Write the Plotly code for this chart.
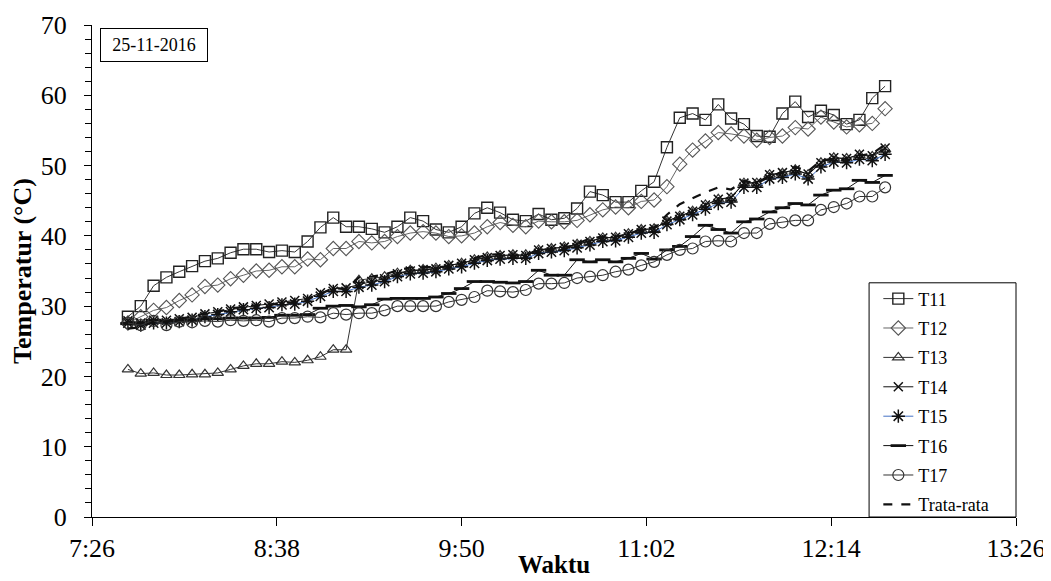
import pandas as pd
import plotly.graph_objects as go

# ---- data ----
times = pd.date_range(start="2016-11-25 07:40", periods=60, freq="5min")

T11 = [28.5, 30.0, 32.9, 34.1, 34.9, 35.7, 36.4, 36.8, 37.6, 38.1,
       38.1, 37.7, 37.9, 37.7, 39.2, 41.2, 42.6, 41.3, 41.3, 41.0,
       40.5, 41.3, 42.6, 42.1, 40.9, 40.5, 41.3, 43.2, 44.0, 43.3,
       42.3, 42.1, 43.1, 42.3, 42.5, 43.9, 46.3, 45.8, 44.8, 44.8,
       46.4, 47.7, 52.6, 56.8, 57.4, 56.5, 58.7, 56.7, 55.9, 54.2,
       54.1, 57.4, 59.1, 56.9, 57.8, 57.2, 55.9, 56.5, 59.6, 61.3]
T12 = [27.6, 28.5, 29.4, 29.8, 30.8, 31.6, 32.8, 33.0, 33.9, 34.4,
       35.0, 35.1, 35.6, 35.6, 36.7, 36.6, 38.2, 38.2, 39.2, 39.0,
       39.2, 39.9, 40.4, 40.6, 40.4, 39.9, 40.0, 40.4, 41.3, 41.9,
       41.5, 41.3, 42.1, 42.0, 42.0, 42.2, 43.0, 43.7, 44.1, 44.0,
       44.9, 45.1, 47.0, 50.2, 52.2, 53.5, 54.7, 54.5, 54.2, 53.6,
       54.0, 54.2, 55.4, 55.2, 56.9, 56.2, 55.5, 55.8, 56.0, 58.1]
T13 = [21.0, 20.4, 20.5, 20.2, 20.2, 20.3, 20.3, 20.5, 21.0, 21.5,
       21.8, 21.8, 22.1, 22.0, 22.3, 22.8, 23.8, 23.8, 33.7, 33.9,
       34.2, 34.7, 35.1, 35.2, 35.4, 35.8, 36.1, 36.6, 37.0, 37.2,
       37.3, 37.3, 38.0, 38.2, 38.4, 38.8, 39.2, 39.7, 39.8, 40.3,
       40.9, 41.0, 42.1, 42.8, 43.5, 44.4, 45.2, 45.4, 47.5, 47.5,
       48.7, 48.9, 49.4, 48.7, 50.4, 51.1, 51.0, 51.5, 51.3, 52.3]
T14 = [27.9, 27.6, 28.0, 28.0, 28.2, 28.4, 28.9, 29.2, 29.6, 29.9,
       30.1, 30.3, 30.6, 30.8, 31.1, 31.9, 32.5, 32.6, 33.1, 33.5,
       33.9, 34.6, 35.0, 35.2, 35.3, 35.8, 36.1, 36.6, 36.9, 37.2,
       37.3, 37.2, 38.0, 38.2, 38.4, 38.8, 39.2, 39.7, 39.8, 40.3,
       40.9, 41.0, 42.1, 42.8, 43.5, 44.4, 45.2, 45.5, 47.5, 47.6,
       48.7, 49.0, 49.4, 48.8, 50.4, 51.1, 51.0, 51.6, 51.4, 52.5]
T15 = [27.6, 27.3, 27.6, 27.6, 27.8, 28.0, 28.5, 28.8, 29.2, 29.5,
       29.7, 29.8, 30.2, 30.3, 30.7, 31.4, 32.1, 32.1, 32.7, 33.0,
       33.5, 34.2, 34.6, 34.7, 34.9, 35.3, 35.6, 36.1, 36.5, 36.7,
       36.8, 36.8, 37.5, 37.7, 37.9, 38.3, 38.7, 39.2, 39.3, 39.8,
       40.4, 40.5, 41.6, 42.3, 43.0, 43.8, 44.6, 44.8, 46.9, 46.9,
       48.1, 48.3, 48.8, 48.1, 49.8, 50.5, 50.4, 50.9, 50.7, 51.6]
T16 = [27.5, 27.6, 28.0, 27.9, 28.0, 28.0, 28.2, 28.2, 28.3, 28.3,
       28.3, 28.4, 28.7, 28.7, 28.8, 29.7, 30.0, 30.1, 29.9, 30.2,
       31.0, 31.1, 31.1, 31.1, 31.3, 31.8, 32.5, 33.5, 33.5, 33.4,
       33.3, 33.5, 35.1, 34.4, 34.4, 36.6, 36.3, 36.6, 36.3, 36.8,
       37.5, 36.7, 38.0, 38.5, 39.9, 41.5, 40.9, 40.4, 42.0, 42.4,
       43.4, 44.0, 44.6, 44.4, 45.8, 46.5, 46.7, 47.9, 47.6, 48.6]
T17 = [27.6, 27.3, 27.9, 27.3, 27.8, 27.7, 27.9, 27.8, 28.0, 27.9,
       28.0, 27.8, 28.3, 28.3, 28.5, 28.4, 29.0, 28.8, 29.0, 29.0,
       29.4, 30.0, 30.0, 30.0, 30.0, 30.6, 30.9, 31.3, 32.2, 32.1,
       32.0, 32.3, 33.2, 33.2, 33.3, 34.0, 34.2, 34.4, 34.9, 35.2,
       35.8, 36.3, 37.3, 38.0, 38.2, 39.2, 39.3, 39.2, 40.4, 40.4,
       41.7, 41.9, 42.2, 42.2, 43.7, 44.1, 44.6, 45.6, 45.6, 46.9]
TRATA = [26.8, 27.0, 27.8, 27.8, 28.2, 28.5, 29.0, 29.2, 29.7, 29.9,
         30.1, 30.1, 30.5, 30.5, 31.0, 31.7, 32.6, 32.4, 34.1, 34.2,
         34.5, 35.1, 35.5, 35.6, 35.5, 35.7, 36.1, 36.8, 37.3, 37.4,
         37.2, 37.2, 38.1, 38.0, 38.1, 38.9, 39.6, 39.9, 39.9, 40.2,
         41.0, 41.2, 43.0, 44.5, 45.4, 46.2, 46.9, 46.6, 47.8, 47.5,
         48.4, 49.1, 49.8, 49.2, 50.7, 51.0, 50.7, 51.4, 51.7, 53.0]

tick_times = ["2016-11-25 07:26", "2016-11-25 08:38", "2016-11-25 09:50",
              "2016-11-25 11:02", "2016-11-25 12:14", "2016-11-25 13:26"]
tick_labels = ["7:26", "8:38", "9:50", "11:02", "12:14", "13:26"]
date_label = "25-11-2016"
x_title = "Waktu"
y_title = "Temperatur (°C)"

SERIF = "Liberation Serif, Times New Roman, serif"

fig = go.Figure()

def add(name, y, symbol, size, line_color, marker_color, mline=1.2, lwidth=1.0):
    fig.add_trace(go.Scatter(
        x=times, y=y, name=name, mode="lines+markers", legendgroup=name,
        line=dict(color=line_color, width=lwidth),
        marker=dict(symbol=symbol, size=size, color=marker_color,
                    line=dict(color=marker_color, width=mline)),
    ))

add("T11", T11, "square-open", 11, "#333333", "#222222", 1.4)
add("T12", T12, "diamond-open", 11, "#666666", "#555555", 1.1)
add("T13", T13, "triangle-up-open", 10, "#333333", "#333333", 1.2)
add("T14", T14, "x-thin-open", 9, "#111111", "#111111", 1.5)
add("T15", T15, "asterisk-open", 11, "#4472C4", "#111111", 1.5)
add("T16", T16, "line-ew-open", 11, "#111111", "#111111", 2.8)
add("T17", T17, "circle-open", 11, "#333333", "#333333", 1.2)
fig.add_trace(go.Scatter(x=times, y=TRATA, name="Trata-rata", mode="lines", legendgroup="Trata-rata",
                         line=dict(color="#111111", width=2.2, dash="dash")))

# the page adds an 8px body margin, so the figure is sized to fit the 1051x581 window
fig.update_layout(
    width=1043, height=573,
    margin=dict(l=84, r=35, t=17, b=64, autoexpand=False),
    paper_bgcolor="white", plot_bgcolor="white",
    font=dict(family=SERIF, color="black", size=18),
    showlegend=True,
    legend=dict(
        x=0.851, y=-0.013, xanchor="left", yanchor="bottom",
        bgcolor="rgba(0,0,0,0)", borderwidth=0,
        font=dict(family=SERIF, size=18, color="black"),
        tracegroupgap=3, itemwidth=30,
    ),
    xaxis=dict(
        type="date", automargin=False,
        range=["2016-11-25 07:26", "2016-11-25 13:26"],
        tickvals=tick_times, ticktext=tick_labels,
        showgrid=False, zeroline=False,
        showline=True, linecolor="black", linewidth=1,
        ticks="outside", ticklen=8, tickcolor="black",
        tickfont=dict(family=SERIF, size=26),
    ),
    yaxis=dict(
        automargin=False,
        range=[0, 70], dtick=10, tick0=0,
        showgrid=False, zeroline=False,
        showline=True, linecolor="black", linewidth=1,
        ticks="outside", ticklen=7, tickcolor="black",
        ticklabelstandoff=12,
        minor=dict(dtick=2, ticks="outside", ticklen=6, tickcolor="black"),
        tickfont=dict(family=SERIF, size=26),
    ),
    shapes=[dict(
        type="rect", xref="paper", yref="paper",
        x0=0.841, x1=1.0, y0=0.0, y1=0.476,
        line=dict(color="black", width=1), fillcolor="white", layer="below",
    )],
    annotations=[
        dict(text=date_label, xref="paper", yref="paper", x=0.0087, y=0.994,
             xanchor="left", yanchor="top", showarrow=False,
             font=dict(family=SERIF, size=18, color="black"),
             width=104, height=30, borderpad=1,
             bordercolor="black", borderwidth=1, bgcolor="white"),
        dict(text="<b>" + y_title + "</b>", xref="paper", yref="paper",
             x=-0.0758, y=0.5, xanchor="center", yanchor="middle",
             textangle=-90, showarrow=False,
             font=dict(family=SERIF, size=26, color="black")),
        dict(text="<b>" + x_title + "</b>", xref="paper", yref="paper",
             x=0.5, y=-0.129, xanchor="center", yanchor="bottom",
             showarrow=False, font=dict(family=SERIF, size=25, color="black")),
    ],
)

fig.write_html("out.html")
